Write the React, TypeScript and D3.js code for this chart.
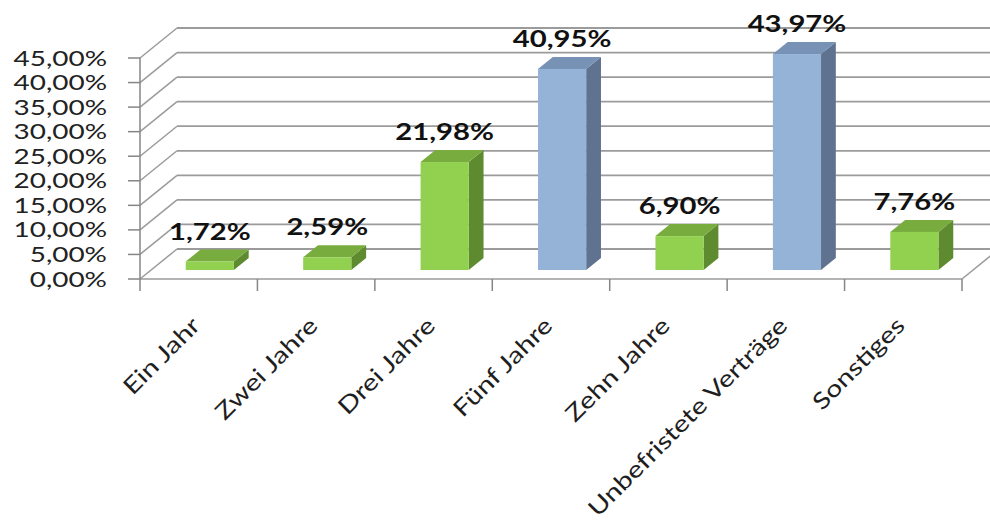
import React from "react";
import * as d3 from "d3";

const categories = ["Ein Jahr", "Zwei Jahre", "Drei Jahre", "Fünf Jahre", "Zehn Jahre", "Unbefristete Verträge", "Sonstiges"];
const values = [1.72, 2.59, 21.98, 40.95, 6.9, 43.97, 7.76];
const colorGroups = ["green", "green", "green", "blue", "green", "blue", "green"];
const yTicks = [0, 5, 10, 15, 20, 25, 30, 35, 40, 45];

const palette: Record<string, { front: string; top: string; side: string }> = {
  green: { front: "#92D050", top: "#78AC3E", side: "#5E8B2F" },
  blue: { front: "#95B3D7", top: "#7792B5", side: "#5F7390" },
};

const W = 990;
const H = 524;
const DX = 37;
const DY = -30;
const D0 = 0.3;
const D1 = 0.7;
const SX = 1.33;

const deLocale = d3.formatLocale({ decimal: ",", thousands: ".", grouping: [3], currency: ["", "€"] });
const fmt = deLocale.format(".2f");

export default function App() {
  const x = d3.scaleBand<string>().domain(categories).range([140, 962]).paddingInner(0).paddingOuter(0);
  const y = d3.scaleLinear().domain([0, 45]).range([279, 58]);
  const bw = x.bandwidth() * 0.41;
  const gridColor = "#9b9b9b";
  const font = "Lato, 'Open Sans', sans-serif";
  const x0 = x.range()[0];
  const x1 = x.range()[1];

  return (
    <svg width={W} height={H} style={{ position: "absolute", left: 0, top: 0, background: "#fff" }}>
      {/* back wall gridlines and side wall */}
      {yTicks.map((t) => (
        <g key={"g" + t}>
          <line x1={x0 + DX} x2={x1 + DX + 20} y1={y(t) + DY} y2={y(t) + DY} stroke={gridColor} strokeWidth={1.8} />
          <line x1={x0} x2={x0 + DX} y1={y(t)} y2={y(t) + DY} stroke={gridColor} strokeWidth={1.5} />
        </g>
      ))}
      {/* floor */}
      <line x1={x0} x2={x1} y1={y(0)} y2={y(0)} stroke={gridColor} strokeWidth={1.5} />
      <line x1={x1} x2={x1 + DX} y1={y(0)} y2={y(0) + DY} stroke={gridColor} strokeWidth={1.5} />
      {/* y axis */}
      <line x1={x0} x2={x0} y1={y(45)} y2={y(0)} stroke="#868686" strokeWidth={1.5} />
      {yTicks.map((t) => (
        <line key={"yt" + t} x1={x0 - 12} x2={x0} y1={y(t)} y2={y(t)} stroke="#868686" strokeWidth={1.5} />
      ))}
      {yTicks.map((t) => (
        <g key={"yl" + t} transform={`translate(107,${y(t)}) scale(${SX},1)`}>
          <text textAnchor="end" dy="0.36em" fontFamily={font} fontSize={21} fill="#222">
            {fmt(t) + "%"}
          </text>
        </g>
      ))}
      {/* x ticks */}
      {[...categories.map((c) => x(c) as number), x1].map((px, i) => (
        <line key={"xt" + i} x1={px} x2={px} y1={y(0)} y2={y(0) + 12} stroke="#868686" strokeWidth={1.5} />
      ))}
      {/* bars */}
      {categories.map((c, i) => {
        const cx = (x(c) as number) + x.bandwidth() / 2;
        const left = cx + D0 * DX - bw / 2;
        const right = left + bw;
        const bottom = y(0) + D0 * DY;
        const top = y(values[i]) + D0 * DY;
        const ddx = (D1 - D0) * DX;
        const ddy = (D1 - D0) * DY;
        const col = palette[colorGroups[i]];
        return (
          <g key={"b" + c}>
            <polygon
              points={`${right},${top} ${right + ddx},${top + ddy} ${right + ddx},${bottom + ddy} ${right},${bottom}`}
              fill={col.side}
            />
            <polygon
              points={`${left},${top} ${left + ddx},${top + ddy} ${right + ddx},${top + ddy} ${right},${top}`}
              fill={col.top}
            />
            <rect x={left} y={top} width={bw} height={bottom - top} fill={col.front} />
            <g transform={`translate(${(left + right) / 2},${top - 22}) scale(${SX},1)`}>
              <text textAnchor="middle" fontFamily={font} fontWeight="bold" fontSize={22} fill="#111">
                {fmt(values[i]) + "%"}
              </text>
            </g>
          </g>
        );
      })}
      {/* x labels */}
      {categories.map((c) => {
        const cx = (x(c) as number) + x.bandwidth() / 2;
        return (
          <g key={"xl" + c} transform={`translate(${cx + 3},${327}) rotate(-45) scale(1.24,1)`}>
            <text textAnchor="end" fontFamily={font} fontSize={23} fill="#1e1e1e">
              {c}
            </text>
          </g>
        );
      })}
    </svg>
  );
}
